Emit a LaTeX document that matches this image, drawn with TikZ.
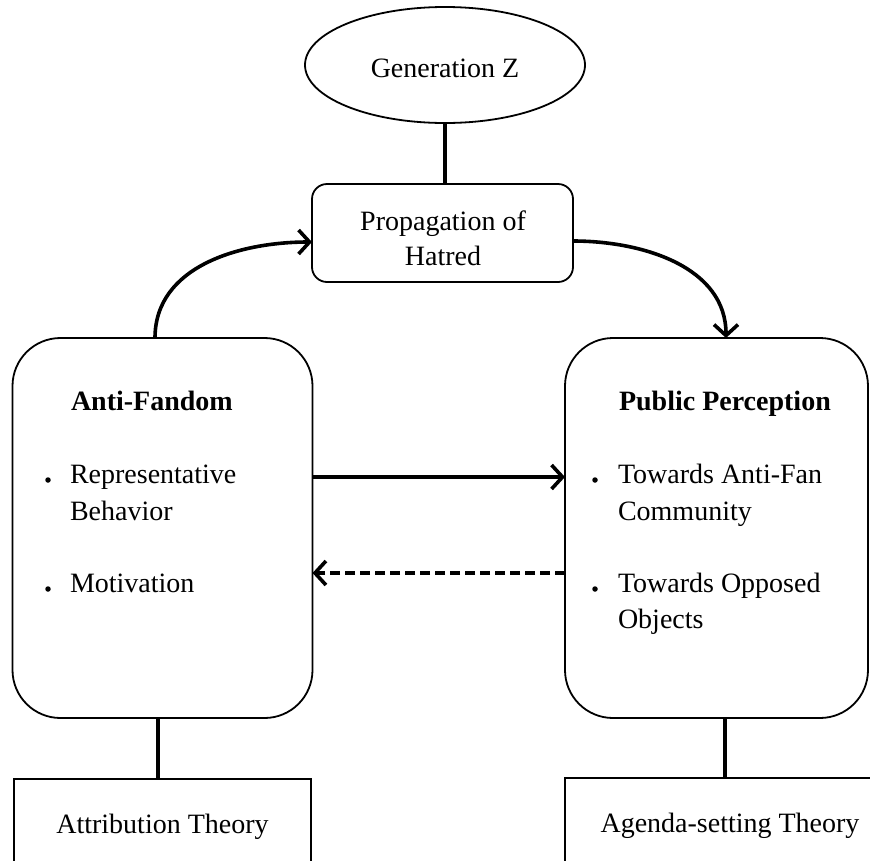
\documentclass[tikz,border=0pt]{standalone}
\usepackage{fontspec}
\setmainfont{Liberation Serif}
\usetikzlibrary{arrows.meta,shapes.geometric}
\begin{document}
\begin{tikzpicture}[x=1pt,y=-1pt,
  every node/.style={inner sep=0pt,outer sep=0pt},
  txt/.style={font=\fontsize{28}{36}\selectfont},
  btxt/.style={font=\fontsize{28}{36}\selectfont\bfseries},
  bigbox/.style={draw,line width=1.8pt,rounded corners=48pt,minimum width=300pt,minimum height=380pt},
  propbox/.style={draw,line width=1.8pt,rounded corners=15pt,minimum width=261pt,minimum height=98pt},
  oval/.style={draw,line width=1.8pt,ellipse,minimum width=280pt,minimum height=116pt},
  theorybox/.style={draw,line width=1.8pt,minimum height=90pt},
  link/.style={line width=3.6pt},
  arr/.style={line width=3.6pt,-{Straight Barb[length=11pt,width=24pt,line width=3.6pt]}},
  dot/.style={circle,fill,minimum size=5.5pt}
]
\useasboundingbox (0,0) rectangle (870,860);
\clip (0,0) rectangle (870,860);
\fill[white] (0,0) rectangle (870,860);

% shapes
\node[oval] (genz) at (445,65) {};
\node[propbox] (prop) at (442.5,233) {};
\node[bigbox] (af) at (162.5,528) {};
\node[bigbox,minimum width=303pt] (pp) at (716.5,528) {};
\node[theorybox,minimum width=297pt] (att) at (162.5,824) {};
\node[theorybox,minimum width=335pt] (age) at (732.5,823) {};

% texts
\node[txt,anchor=base] (genzt) at (445,77) {Generation Z};
\node[txt,anchor=base] (propt1) at (443,230) {Propagation of};
\node[txt,anchor=base] (propt2) at (443,265) {Hatred};

\node[btxt,anchor=base west] (aft) at (71,410) {Anti-Fandom};
\node[dot] (afb1) at (48,480) {};
\node[txt,anchor=base west] (af1a) at (70,483) {Representative};
\node[txt,anchor=base west] (af1b) at (70,520) {Behavior};
\node[dot] (afb2) at (48,589) {};
\node[txt,anchor=base west] (af2) at (70,592) {Motivation};

\node[btxt,anchor=base west] (ppt) at (619,410) {Public Perception};
\node[dot] (ppb1) at (595,480) {};
\node[txt,anchor=base west] (pp1a) at (618,483) {Towards Anti-Fan};
\node[txt,anchor=base west] (pp1b) at (618,520) {Community};
\node[dot] (ppb2) at (595,589) {};
\node[txt,anchor=base west] (pp2a) at (618,592) {Towards Opposed};
\node[txt,anchor=base west] (pp2b) at (618,628) {Objects};

\node[txt,anchor=base] (attt) at (162.5,833) {Attribution Theory};
\node[txt,anchor=base] (aget) at (730,832) {Agenda-setting Theory};

% connectors
\draw[link] (genz.south) -- (genz.south |- prop.north);
\draw[link] ([xshift=-4.5pt]af.south) -- ([xshift=-4.5pt]af.south |- att.north);
\draw[link] ([xshift=8.5pt]pp.south) -- ([xshift=8.5pt]pp.south |- age.north);

\draw[arr] ([xshift=-7.5pt]af.north) to[out=90,in=180] ([yshift=-9pt]prop.west);
\draw[arr] ([yshift=-8pt]prop.east) to[out=0,in=90] ([xshift=9.5pt]pp.north);

\draw[arr] ([yshift=51pt]af.east) -- ([yshift=51pt]pp.west);
\draw[arr,dash pattern=on 10pt off 5pt] ([yshift=-45pt]pp.west) -- ([yshift=-45pt]af.east);
\end{tikzpicture}
\end{document}
